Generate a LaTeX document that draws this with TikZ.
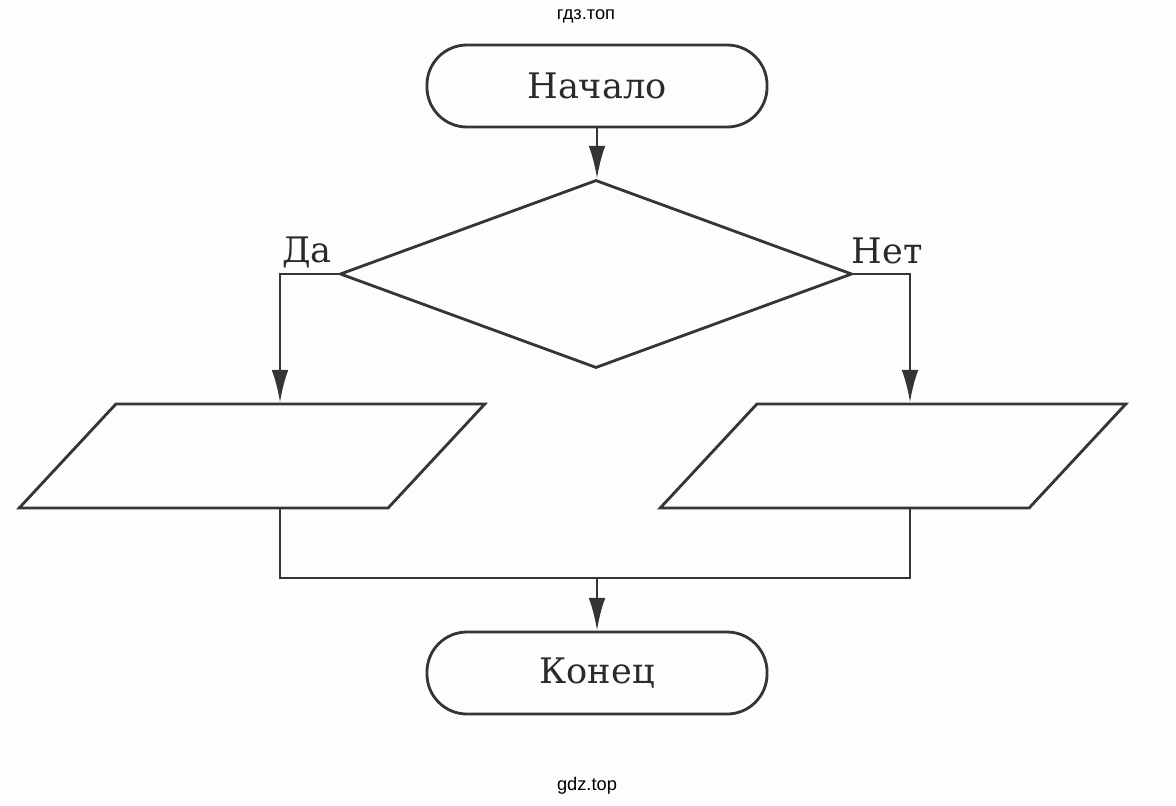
\documentclass[tikz,border=0pt]{standalone}
\usepackage{xcolor}
\usepackage{fontspec}
\setmainfont{DejaVu Serif}
\newfontfamily\wmfont{Liberation Sans}
\usepackage{tikz}
\usetikzlibrary{shapes.geometric,arrows.meta}

\definecolor{ink}{HTML}{353535}
\definecolor{inktext}{HTML}{2A2A2A}
\definecolor{paper}{HTML}{FDFDFD}

\tikzset{
	terminal/.style={draw=ink, line width=2pt, rounded corners=1cm, minimum width=8.5cm, minimum height=2.05cm, inner sep=0pt, text=inktext, font=\fontsize{25}{29}\selectfont},
	decision/.style={draw=ink, line width=2pt, diamond, minimum width=12.8cm, minimum height=4.7cm, inner sep=0pt},
	iobox/.style={draw=ink, line width=2pt, rectangle, xslant=0.93, minimum width=9.22cm, minimum height=2.6cm, inner sep=0pt},
	branch/.style={text=inktext, font=\fontsize{25}{29}\selectfont, anchor=base, inner sep=0pt},
	wmtext/.style={text=black, font=\wmfont\fontsize{13}{15}\selectfont, inner sep=0pt},
	line/.style={draw=ink, line width=2pt},
	arrow/.style={line, -{Latex[length=0.82cm,width=0.42cm]}},
}

\begin{document}
	\begin{tikzpicture}[x=0.025cm, y=-0.025cm]
		\path[fill=paper, use as bounding box] (0,0) rectangle (1176,805);

		% blocks
		\node[terminal] (start) at (597,86) {Начало};
		\node[decision] (cond) at (596,274) {};
		\node[iobox] (yes) at (252,456) {};
		\node[iobox] (no) at (893,456) {};
		\node[terminal] (stop) at (597,673) {Конец};

		% branch columns and join point
		\coordinate (yescol) at (280,274);
		\coordinate (nocol) at (910,274);
		\coordinate (join) at (597,578);

		\draw[arrow] (start.south) -- (start.south |- cond.north);
		\draw[arrow] (cond.west) -| (yes.north -| yescol);
		\draw[arrow] (cond.east) -| (no.north -| nocol);
		\draw[line] (yes.south -| yescol) |- (join) -| (no.south -| nocol);
		\draw[arrow] (join) -- (stop.north);

		\node[branch] (yeslbl) at (307,262) {Да};
		\node[branch] (nolbl) at (887,263) {Нет};

		\node[wmtext] (wmtop) at (586,16) {гдз.топ};
		\node[wmtext] (wmbottom) at (587,786) {gdz.top};
	\end{tikzpicture}
\end{document}
